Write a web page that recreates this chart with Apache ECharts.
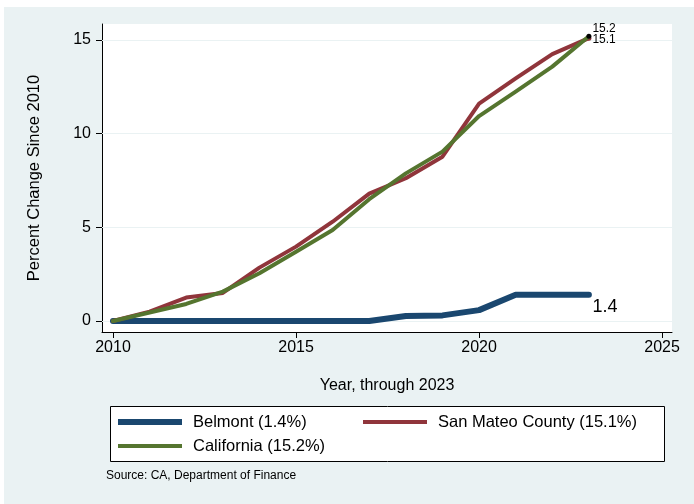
<!DOCTYPE html>
<html>
<head>
<meta charset="utf-8">
<script src="https://cdn.jsdelivr.net/npm/echarts@6/dist/echarts.min.js"></script>
<style>
  html, body { margin: 0; padding: 0; background: #ffffff; }
  #chart {
    width: 694px; height: 504px;
    background:
      linear-gradient(#ffffff, #ffffff) 0 0 / 4px 100% no-repeat,
      linear-gradient(#ffffff, #ffffff) 0 0 / 100% 7px no-repeat,
      #eaf2f3;
  }
</style>
</head>
<body>
<div id="chart"></div>
<script>
// ---- data ----
const years = [2010, 2011, 2012, 2013, 2014, 2015, 2016, 2017, 2018, 2019, 2020, 2021, 2022, 2023];
const belmont = [0, 0, 0, 0, 0, 0, 0, 0, 0.27, 0.3, 0.58, 1.4, 1.4, 1.4];
const sanMateo = [0, 0.5, 1.25, 1.5, 2.85, 3.97, 5.3, 6.8, 7.62, 8.77, 11.6, 12.95, 14.25, 15.1];
const california = [0, 0.45, 0.91, 1.57, 2.55, 3.7, 4.86, 6.5, 7.88, 9.04, 10.94, 12.24, 13.58, 15.2];
const xTicks = [2010, 2015, 2020, 2025];
const yTicks = [0, 5, 10, 15];
const seriesNames = ['Belmont (1.4%)', 'San Mateo County (15.1%)', 'California (15.2%)'];
const sourceNote = 'Source: CA, Department of Finance';

const FONT = '"Liberation Sans", Arial, Helvetica, sans-serif';
const NAVY = '#1a476f', MAROON = '#90353b', GREEN = '#55752f', BG = '#eaf2f3';

function buildData(vals, lastOpts) {
  return vals.map((v, i) => {
    const item = { value: [years[i], v] };
    if (i === vals.length - 1) Object.assign(item, lastOpts);
    return item;
  });
}

function legendFor(name, left, centerY, thick) {
  return {
    data: [{ name: name, icon: 'rect' }],
    orient: 'vertical', left: left, top: centerY - 9, padding: 0,
    itemWidth: 64, itemHeight: thick, itemGap: 0,
    textStyle: { fontSize: 16.5, color: '#000', fontFamily: FONT, padding: [0, 0, 0, 6], lineHeight: 18 },
    selectedMode: false
  };
}

const chart = echarts.init(document.getElementById('chart'), null, { renderer: 'canvas' });

const option = {
  backgroundColor: 'transparent',
  animation: false,
  textStyle: { fontFamily: FONT },
  graphic: [
    { type: 'rect', z: 1, silent: true, shape: { x: 110.5, y: 406.5, width: 554, height: 55 }, style: { fill: '#ffffff', stroke: '#000000', lineWidth: 1 } },
    { type: 'text', z: 5, left: 106, top: 470, style: { text: sourceNote, fontSize: 12, fontFamily: FONT, fill: '#000000' } }
  ],
  grid: { left: 102, right: 22, top: 24, bottom: 172, show: true, backgroundColor: '#ffffff', borderWidth: 0 },
  xAxis: {
    type: 'value',
    min: 2009.7, max: 2025.27,
    name: 'Year, through 2023',
    nameLocation: 'middle',
    nameGap: 46,
    nameTextStyle: { fontSize: 16, color: '#000', fontFamily: FONT },
    axisLine: { show: true, onZero: false, lineStyle: { color: '#000', width: 1 } },
    axisTick: { show: true, length: 6, lineStyle: { color: '#000' }, customValues: xTicks },
    axisLabel: { fontSize: 16, color: '#000', margin: 8, fontFamily: FONT, customValues: xTicks, formatter: v => String(v) },
    splitLine: { show: false }
  },
  yAxis: {
    type: 'value',
    min: -0.587, max: 15.854,
    name: 'Percent Change Since 2010',
    nameLocation: 'middle',
    nameGap: 59,
    nameTextStyle: { fontSize: 16.5, color: '#000', fontFamily: FONT },
    axisLine: { show: true, onZero: false, lineStyle: { color: '#000', width: 1 } },
    axisTick: { show: true, length: 6, lineStyle: { color: '#000' }, customValues: yTicks },
    axisLabel: { fontSize: 16, color: '#000', margin: 11, fontFamily: FONT, customValues: yTicks, formatter: v => String(v) },
    splitLine: { show: false }
  },
  legend: [
    legendFor(seriesNames[0], 118, 422, 6),
    legendFor(seriesNames[1], 363, 422, 4),
    legendFor(seriesNames[2], 118, 446, 4)
  ],
  series: [
    {
      name: seriesNames[0], type: 'line', symbol: 'none', showSymbol: true,
      color: NAVY,
      lineStyle: { color: NAVY, width: 6, cap: 'round', join: 'round' },
      data: buildData(belmont, {
        symbol: 'circle', symbolSize: 1, itemStyle: { color: NAVY },
        label: { show: true, position: 'right', distance: 3, offset: [0, 12], fontSize: 18, color: '#000', fontFamily: FONT,
                 formatter: p => p.value[1].toFixed(1) }
      }),
      markLine: {
        silent: true, symbol: 'none', z: 1,
        label: { show: false },
        lineStyle: { color: BG, width: 1, type: 'solid' },
        data: yTicks.map(v => ({ yAxis: v }))
      },
      z: 2
    },
    {
      name: seriesNames[1], type: 'line', symbol: 'none', showSymbol: true,
      color: MAROON,
      lineStyle: { color: MAROON, width: 4, cap: 'round', join: 'round' },
      data: buildData(sanMateo, {
        symbol: 'circle', symbolSize: 5, itemStyle: { color: MAROON },
        label: { show: true, position: 'right', distance: 1, offset: [0, 1.5], fontSize: 12, color: '#000', fontFamily: FONT,
                 formatter: p => p.value[1].toFixed(1) }
      }),
      z: 3
    },
    {
      name: seriesNames[2], type: 'line', symbol: 'none', showSymbol: true,
      color: GREEN,
      lineStyle: { color: GREEN, width: 4, cap: 'round', join: 'round' },
      data: buildData(california, {
        symbol: 'circle', symbolSize: 5, itemStyle: { color: '#000' },
        label: { show: true, position: 'right', distance: 1, offset: [0, -8], fontSize: 12, color: '#000', fontFamily: FONT,
                 formatter: p => p.value[1].toFixed(1) }
      }),
      z: 4
    }
  ]
};

chart.setOption(option);
</script>
</body>
</html>
